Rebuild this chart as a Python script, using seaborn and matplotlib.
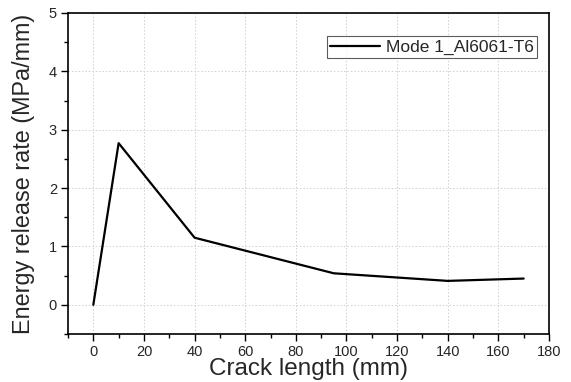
import matplotlib
matplotlib.use("Agg")
import matplotlib.pyplot as plt
import seaborn as sns
import pandas as pd
from matplotlib.ticker import MultipleLocator

crack_length = [0, 10, 40, 95, 140, 170]
energy_release = [0.0, 2.77, 1.15, 0.54, 0.41, 0.45]
series_name = "Mode 1_Al6061-T6"

sns.set_style("white")
plt.rcParams['font.family'] = ['Liberation Sans', 'DejaVu Sans']

df = pd.DataFrame({"x": crack_length, "y": energy_release, "s": series_name})

fig = plt.figure(figsize=(5.71, 3.82), dpi=100)
ax = fig.add_axes([68/571, 1 - 334/382, (549-68)/571, (334-13)/382])
sns.lineplot(data=df, x="x", y="y", hue="s", palette=["black"], ax=ax, linewidth=1.6)

ax.set_xlim(-10, 180)
ax.set_ylim(-0.5, 5)
ax.xaxis.set_major_locator(MultipleLocator(20))
ax.xaxis.set_minor_locator(MultipleLocator(10))
ax.yaxis.set_major_locator(MultipleLocator(1))
ax.yaxis.set_minor_locator(MultipleLocator(0.5))
ax.grid(True, which="major", color="#d0d0d0", linestyle=(0, (1.5, 2)), linewidth=0.7)
for s in ax.spines.values():
    s.set_color("black")
    s.set_linewidth(1.2)
ax.tick_params(which="major", direction="out", length=5, width=1.0, labelsize=10.5, color="black",
               bottom=True, left=True, pad=3)
ax.tick_params(which="minor", direction="out", length=3, width=1.0, color="black",
               bottom=True, left=True)
ax.set_xlabel("Crack length (mm)", fontsize=17.5, labelpad=-1)
ax.set_ylabel("Energy release rate (MPa/mm)", fontsize=16.8, labelpad=10)

leg = ax.legend(loc="upper right", bbox_to_anchor=(0.975, 0.928), fontsize=12.5, frameon=True,
                fancybox=False, edgecolor="#333333", handlelength=2.9, borderpad=0.2,
                handletextpad=0.3, borderaxespad=0)
leg.get_frame().set_linewidth(0.8)

fig.savefig("out.png", dpi=100)
